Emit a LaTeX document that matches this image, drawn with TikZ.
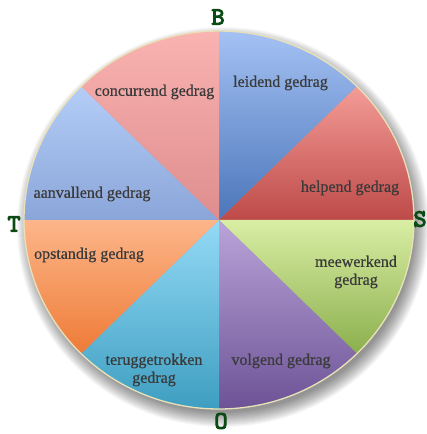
\documentclass[tikz,border=0pt]{standalone}
\usepackage{fontspec}
\setmainfont{Liberation Serif}[FakeBold=0.6]
\newfontfamily\letterfont{lmmono10-regular.otf}[FakeBold=4]
\begin{document}
\begin{tikzpicture}[x=1pt,y=1pt,
  wedgelabel/.style={text=labelgrey, font=\fontsize{16}{18}\selectfont, align=center, inner sep=0pt},
  compass/.style={text=compassgreen, font=\letterfont\fontsize{25}{25}\selectfont, inner sep=0pt}]
\definecolor{labelgrey}{HTML}{3A3A3A}
\definecolor{compassgreen}{HTML}{0B4A12}
\definecolor{rimcolor}{HTML}{E9E2B9}
\useasboundingbox (0,0) rectangle (427,434);
\fill[white] (0,0) rectangle (427,434);
\coordinate (C) at (219,214);
\def\rx{195}
\def\ry{189}
% soft drop shadow
\foreach \k in {0,...,15}{
  \fill[black, opacity=0.032] (223,207) ellipse [x radius={\rx+11-\k}, y radius={\ry+11-\k}];
}
% the eight wedges, each with its own vertical gradient
\newcommand\piewedge[4]{%
  \shade[top color=#3, bottom color=#4]
    (C) -- ++(#1:{\rx} and {\ry}) arc[start angle=#1, end angle=#2, x radius=\rx, y radius=\ry] -- cycle;}
\definecolor{w1t}{HTML}{A4C1F3}\definecolor{w1b}{HTML}{4B76BA}
\definecolor{w2t}{HTML}{F49C97}\definecolor{w2b}{HTML}{BD4A48}
\definecolor{w3t}{HTML}{D9EEA4}\definecolor{w3b}{HTML}{8BAF4D}
\definecolor{w4t}{HTML}{BAA4D9}\definecolor{w4b}{HTML}{6D5396}
\definecolor{w5t}{HTML}{94DAF6}\definecolor{w5b}{HTML}{3E9EC1}
\definecolor{w6t}{HTML}{FDB68A}\definecolor{w6b}{HTML}{EE7B37}
\definecolor{w7t}{HTML}{B4CDF8}\definecolor{w7b}{HTML}{8AA5D8}
\definecolor{w8t}{HTML}{F9B3B1}\definecolor{w8b}{HTML}{DE8D8D}
\piewedge{45}{90}{w1t}{w1b}
\piewedge{0}{45}{w2t}{w2b}
\piewedge{-45}{0}{w3t}{w3b}
\piewedge{-90}{-45}{w4t}{w4b}
\piewedge{-135}{-90}{w5t}{w5b}
\piewedge{180}{225}{w6t}{w6b}
\piewedge{135}{180}{w7t}{w7b}
\piewedge{90}{135}{w8t}{w8b}
% rim
\draw[rimcolor, line width=1.3pt] (C) ellipse [x radius=\rx, y radius=\ry];
% labels
\node[wedgelabel] (leidend) at (280.5,351) {leidend gedrag};
\node[wedgelabel] (concurrend) at (154.5,342) {concurrend gedrag};
\node[wedgelabel] (helpend) at (350,246) {helpend gedrag};
\node[wedgelabel] (aanvallend) at (92,240) {aanvallend gedrag};
\node[wedgelabel] (opstandig) at (89,179) {opstandig gedrag};
\node[wedgelabel] (meewerkend) at (356,162) {meewerkend\\gedrag};
\node[wedgelabel] (teruggetrokken) at (154,64) {teruggetrokken\\gedrag};
\node[wedgelabel] (volgend) at (281,73) {volgend gedrag};
% compass letters
\node[compass] (B) at (218,417) {B};
\node[compass] (T) at (14,210) {T};
\node[compass] (S) at (420,215) {S};
\node[compass] (O) at (221,13) {O};
\end{tikzpicture}
\end{document}
